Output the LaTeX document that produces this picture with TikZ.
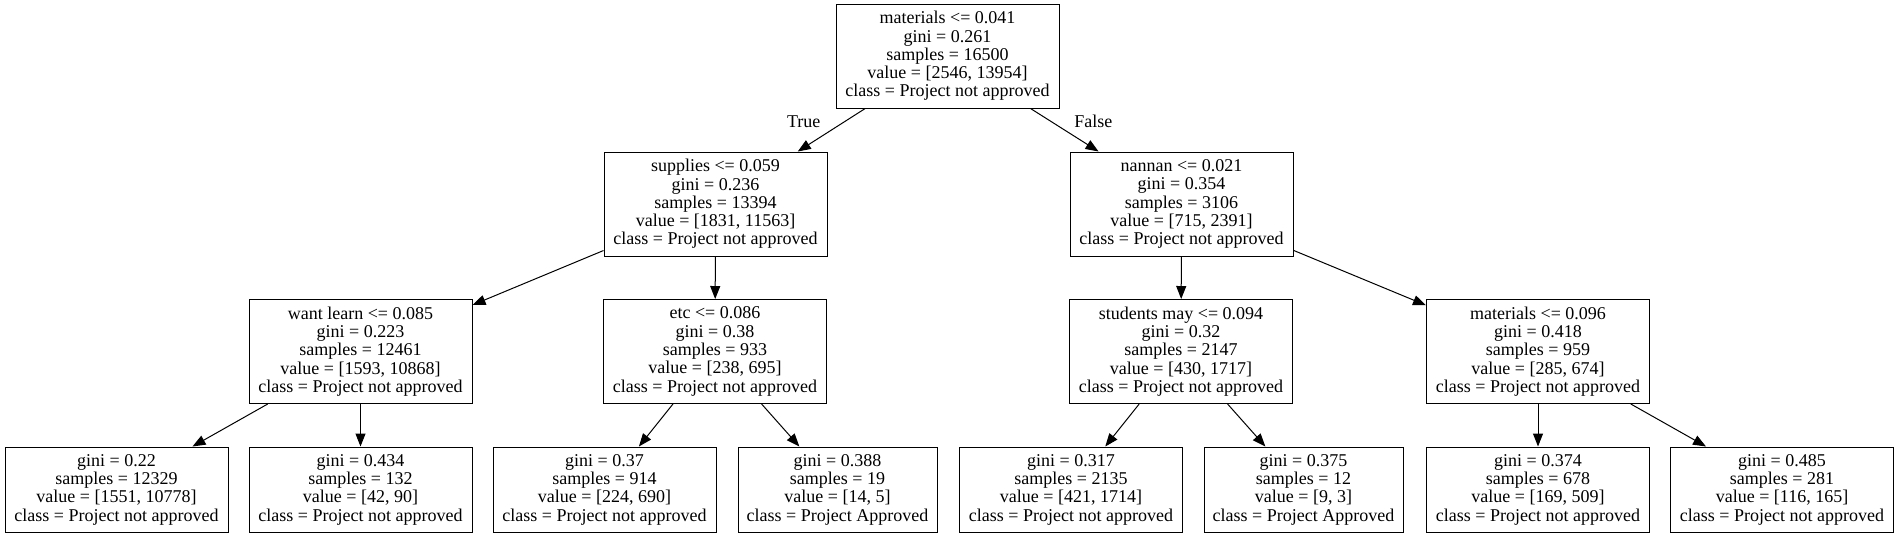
\documentclass[tikz,border=0pt]{standalone}
\usepackage{fontspec}
\setmainfont{Liberation Serif}
\usetikzlibrary{arrows.meta}
\tikzstyle{split} = [draw, rectangle, align=center, line width=0.5pt, minimum width=111.5pt, minimum height=52pt, inner sep=0pt]
\tikzstyle{leaf} = [split, minimum height=42.5pt]
\tikzstyle{leafnarrow} = [leaf, minimum width=99.5pt]
\tikzstyle{arrow} = [line width=0.5pt, -{Triangle[length=6.5pt,width=5pt]}]
\tikzstyle{edgelabel} = [inner sep=0pt]

\begin{document}
\begin{tikzpicture}[x=0.5pt, y=-0.5pt, every node/.style={font=\fontsize{9}{9.15}\selectfont}]
        \useasboundingbox (0,0) rectangle (1898,537);

        % Splits
        \node[split] (root) at (947.5,56) {materials <= 0.041\\gini = 0.261\\samples = 16500\\value = [2546, 13954]\\class = Project not approved};
        \node[split] (supp) at (715.5,204) {supplies <= 0.059\\gini = 0.236\\samples = 13394\\value = [1831, 11563]\\class = Project not approved};
        \node[split] (nann) at (1181.5,204) {nannan <= 0.021\\gini = 0.354\\samples = 3106\\value = [715, 2391]\\class = Project not approved};
        \node[split] (want) at (360.5,351.5) {want learn <= 0.085\\gini = 0.223\\samples = 12461\\value = [1593, 10868]\\class = Project not approved};
        \node[split] (etc) at (715,351.5) {etc <= 0.086\\gini = 0.38\\samples = 933\\value = [238, 695]\\class = Project not approved};
        \node[split] (stud) at (1181,351.5) {students may <= 0.094\\gini = 0.32\\samples = 2147\\value = [430, 1717]\\class = Project not approved};
        \node[split] (mat) at (1538,351.5) {materials <= 0.096\\gini = 0.418\\samples = 959\\value = [285, 674]\\class = Project not approved};

        % Leaves
        \node[leaf] (L1) at (116.5,489.5) {gini = 0.22\\samples = 12329\\value = [1551, 10778]\\class = Project not approved};
        \node[leaf] (L2) at (360.5,489.5) {gini = 0.434\\samples = 132\\value = [42, 90]\\class = Project not approved};
        \node[leaf] (L3) at (604.5,489.5) {gini = 0.37\\samples = 914\\value = [224, 690]\\class = Project not approved};
        \node[leafnarrow] (L4) at (837.5,489.5) {gini = 0.388\\samples = 19\\value = [14, 5]\\class = Project Approved};
        \node[leaf] (L5) at (1071,489.5) {gini = 0.317\\samples = 2135\\value = [421, 1714]\\class = Project not approved};
        \node[leafnarrow] (L6) at (1303.5,489.5) {gini = 0.375\\samples = 12\\value = [9, 3]\\class = Project Approved};
        \node[leaf] (L7) at (1538,489.5) {gini = 0.374\\samples = 678\\value = [169, 509]\\class = Project not approved};
        \node[leaf] (L8) at (1782,489.5) {gini = 0.485\\samples = 281\\value = [116, 165]\\class = Project not approved};

        % Edges
        \draw[arrow] (root) -- node[edgelabel, pos=0.3, left=12pt] {True} (supp);
        \draw[arrow] (root) -- node[edgelabel, pos=0.3, right=11.5pt] {False} (nann);
        \draw[arrow] (supp) -- (want);
        \draw[arrow] (supp) -- (etc);
        \draw[arrow] (nann) -- (stud);
        \draw[arrow] (nann) -- (mat);
        \draw[arrow] (want) -- (L1);
        \draw[arrow] (want) -- (L2);
        \draw[arrow] (etc) -- (L3);
        \draw[arrow] (etc) -- (L4);
        \draw[arrow] (stud) -- (L5);
        \draw[arrow] (stud) -- (L6);
        \draw[arrow] (mat) -- (L7);
        \draw[arrow] (mat) -- (L8);
\end{tikzpicture}
\end{document}
